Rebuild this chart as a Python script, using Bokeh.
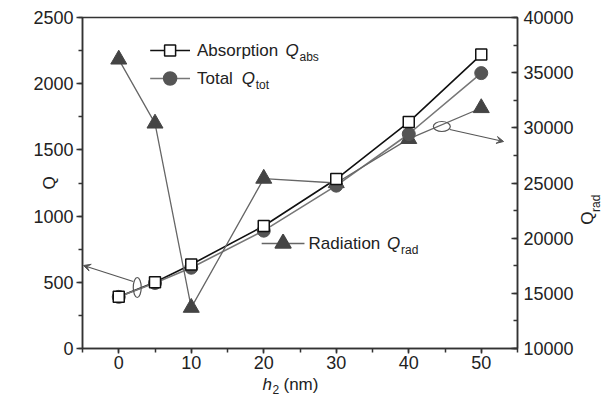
import math
from bokeh.plotting import figure
from bokeh.layouts import row, column
from bokeh.models import (Range1d, LinearAxis, SingleIntervalTicker, Label, Arrow, VeeHead)
from bokeh.core.properties import value
from bokeh.embed import file_html
from bokeh.resources import INLINE

# ---- data ----
h2 = [0, 5, 10, 20, 30, 40, 50]
q_abs = [390, 500, 635, 925, 1280, 1710, 2220]
q_tot = [390, 495, 610, 890, 1230, 1620, 2080]
q_rad = [36200, 30400, 13700, 25400, 25000, 29000, 31800]

x_ticks_interval = 10
FONT = "Liberation Sans"
TXT = "#222222"

# ---- layout (canvas pixels) ----
FL, FR, FT, FB = 82, 519, 17, 348
P_W, P_H = 576, 376          # main figure
TOTAL_W = 604
BOT_H = 24
XMIN, XMAX, YMIN, YMAX = -5, 55, 0, 2500


def dx(px):
    return XMIN + (px - FL) * (XMAX - XMIN) / (FR - FL)


def dy(py):
    return YMIN + (FB - py) * (YMAX - YMIN) / (FB - FT)


p = figure(width=P_W, height=P_H, output_backend="svg", toolbar_location=None,
           x_range=Range1d(XMIN, XMAX), y_range=Range1d(YMIN, YMAX),
           min_border_left=FL, min_border_right=P_W - FR,
           min_border_top=FT, min_border_bottom=P_H - FB)
p.extra_y_ranges = {"rad": Range1d(10000, 40000)}
p.xgrid.visible = False
p.ygrid.visible = False
p.outline_line_color = "#333333"
p.outline_line_width = 1.5
p.background_fill_color = "white"
p.border_fill_color = "white"


def style_axis(ax, inward=False):
    ax.axis_line_color = "#333333"
    ax.axis_line_width = 1.5
    ax.major_tick_line_color = "#333333"
    ax.minor_tick_line_color = "#333333"
    ax.major_tick_line_width = 1.5
    ax.minor_tick_line_width = 1.5
    if inward:
        ax.major_tick_in, ax.major_tick_out = 6, 0
        ax.minor_tick_in, ax.minor_tick_out = 4, 0
    else:
        ax.major_tick_in, ax.major_tick_out = 0, 6
        ax.minor_tick_in, ax.minor_tick_out = 0, 4
    ax.major_label_text_font = FONT
    ax.major_label_text_font_size = "18px"
    ax.major_label_text_color = TXT


xa = p.xaxis[0]
xa.ticker = SingleIntervalTicker(interval=x_ticks_interval, num_minor_ticks=2)
style_axis(xa)
xa.major_tick_out = 5
xa.major_label_standoff = 2
ya = p.yaxis[0]
ya.ticker = SingleIntervalTicker(interval=500, num_minor_ticks=2)
style_axis(ya)
ya.major_label_standoff = 3
ya.axis_label = "Q"
ya.axis_label_text_font = FONT
ya.axis_label_text_font_size = "17px"
ya.axis_label_text_font_style = "normal"
ya.axis_label_text_color = TXT
ya.axis_label_standoff = -29
ra = LinearAxis(y_range_name="rad", ticker=SingleIntervalTicker(interval=5000, num_minor_ticks=2))
style_axis(ra, inward=True)
ra.major_label_standoff = 6
p.add_layout(ra, "right")

# ---- series ----
p.line(h2, q_abs, line_color="#111111", line_width=1.6)
p.line(h2, q_tot, line_color="#777777", line_width=1.6)
p.line(h2, q_rad, y_range_name="rad", line_color="#666666", line_width=1.3)
p.scatter(h2, q_rad, y_range_name="rad", marker="triangle", size=16,
          fill_color="#444444", line_color="#444444")
p.scatter(h2, q_tot, marker="circle", size=13, fill_color="#555555", line_color="#555555")
p.scatter(h2, q_abs, marker="square", size=11, fill_color="white", line_color="#111111", line_width=1.5)

# ---- annotations: ellipses and arrows ----
p.ellipse(x=[dx(137), dx(443)], y=[dy(287), dy(126)],
          width=[8 * 60 / 437, 17 * 60 / 437], height=[20 * 2500 / 331, 10 * 2500 / 331],
          fill_color=None, line_color="#555555", line_width=1.2)
p.add_layout(Arrow(x_start=dx(133), y_start=dy(281), x_end=dx(83), y_end=dy(265),
                   line_color="#555555", line_width=1.2,
                   end=VeeHead(size=7, fill_color="#555555", line_color="#555555")))
p.add_layout(Arrow(x_start=dx(451), y_start=dy(129), x_end=dx(505), y_end=dy(141),
                   line_color="#555555", line_width=1.2,
                   end=VeeHead(size=7, fill_color="#555555", line_color="#555555")))


def lab(px, py, text, size=17, style="normal", angle=0.0, align="left"):
    p.add_layout(Label(x=dx(px), y=dy(py), text=text, text_font=FONT,
                       text_font_size=f"{size}px", text_font_style=style,
                       text_color=TXT, text_baseline="middle", text_align=align,
                       angle=angle))


# ---- legend ----
legend_rows = [
    (50, "Absorption", "abs", 286, 300, dict(marker="square", size=11, fill_color="white", line_color="#111111"), "#111111", 150, 190),
    (78, "Total", "tot", 242, 256, dict(marker="circle", size=13, fill_color="#555555", line_color="#555555"), "#777777", 150, 190),
    (243, "Radiation", "rad", 388, 402, dict(marker="triangle", size=16, fill_color="#444444", line_color="#444444"), "#666666", 262, 305),
]
for py, word, sub, qx, sx, mk, lc, l0, l1 in legend_rows:
    p.line([dx(l0), dx(l1)], [dy(py), dy(py)], line_color=lc, line_width=1.6)
    p.scatter([dx((l0 + l1) / 2)], [dy(py)], line_width=1.5, **mk)
    tx = l0 + 47
    lab(tx, py, word)
    lab(qx, py, "Q", style="italic")
    lab(sx, py + 6, sub, size=12)


# ---- strips carrying the outer axis titles (pixel-unit ranges) ----
def strip(w, h):
    s = figure(width=w, height=h, output_backend="svg", toolbar_location=None,
               x_range=Range1d(0, w), y_range=Range1d(0, h),
               x_axis_type=None, y_axis_type=None, min_border=0)
    s.outline_line_color = None
    s.background_fill_color = "white"
    s.border_fill_color = "white"
    return s


def stext(s, h, lx, py, text, size=17, style="normal", angle=0.0, align="left"):
    s.text(x=[lx], y=[h - py], text=[text], angle=angle,
           text_font=value(FONT), text_font_size=value(f"{size}px"),
           text_font_style=style, text_color=TXT,
           text_baseline="middle", text_align=align)


right_w = TOTAL_W - P_W
rs = strip(right_w, P_H)
stext(rs, P_H, 587 - P_W, 228, "Q", angle=math.pi / 2, align="center")
stext(rs, P_H, 595 - P_W, 211, "rad", size=12, angle=math.pi / 2, align="center")

bs = strip(TOTAL_W, BOT_H)
stext(bs, BOT_H, 262, 384 - P_H, "h", style="italic")
stext(bs, BOT_H, 272, 389 - P_H, "2", size=12)
stext(bs, BOT_H, 283, 384 - P_H, "(nm)")

layout = column(row(p, rs, spacing=0), bs, spacing=0)

open("out.html", "w").write(file_html(layout, INLINE))
